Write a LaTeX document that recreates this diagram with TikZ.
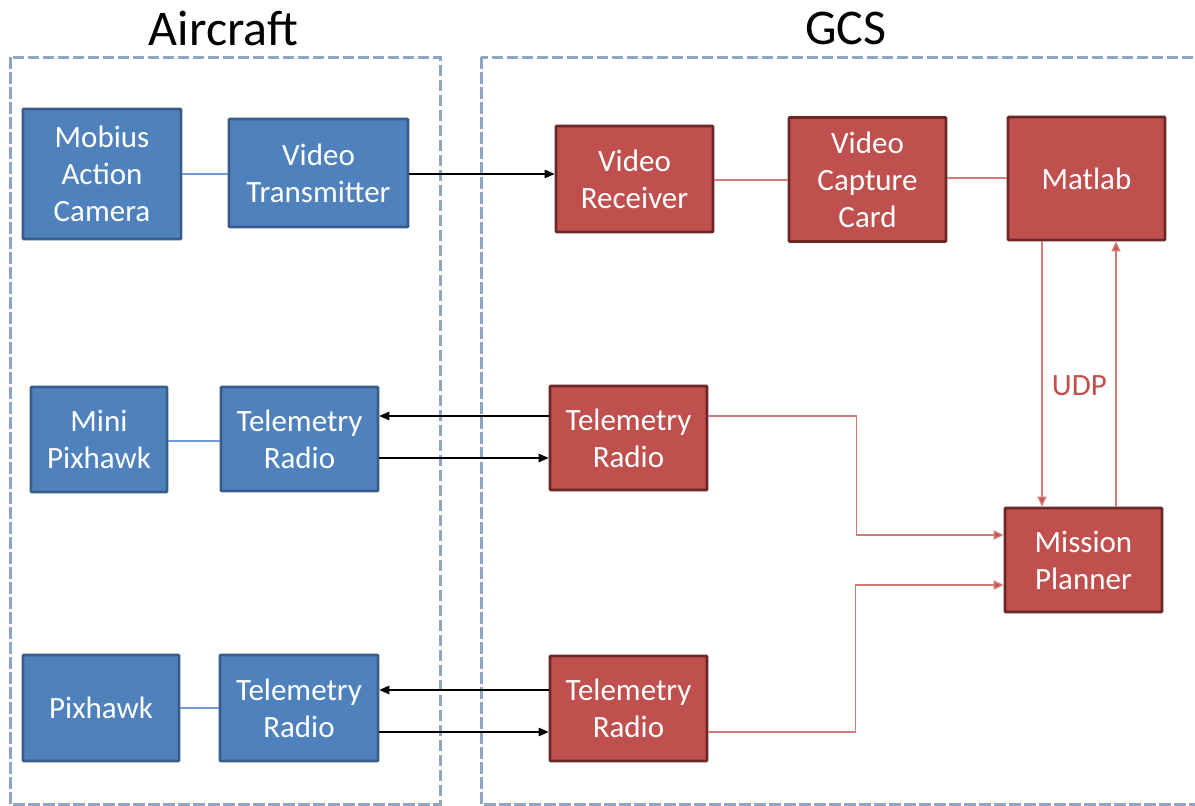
\documentclass[tikz,border=0pt]{standalone}
\usepackage{fontspec}
\setmainfont{Carlito}
\usetikzlibrary{arrows.meta,calc}
\definecolor{bfill}{HTML}{4F81BD}
\definecolor{bdraw}{HTML}{385D8A}
\definecolor{rfill}{HTML}{C0504D}
\definecolor{rdraw}{HTML}{6B2726}
\definecolor{rline}{RGB}{212,122,120}
\definecolor{bline}{RGB}{110,155,210}
\definecolor{dashc}{RGB}{142,165,195}
\tikzset{
  bluebox/.style={draw=bdraw, fill=bfill, line width=2.6pt, text=white, align=center, inner sep=0pt, rounded corners=0.8pt, font=\fontsize{31}{37}\selectfont},
  redbox/.style={draw=rdraw, fill=rfill, line width=2.8pt, text=white, align=center, inner sep=0pt, rounded corners=0.8pt, font=\fontsize{31}{37}\selectfont},
  group/.style={draw=dashc, line width=3pt, dash pattern=on 11.5pt off 3.5pt},
  title/.style={font=\fontsize{50}{54}\selectfont, text=black},
  bconn/.style={draw=bline, line width=1.3pt},
  rconn/.style={draw=rline, line width=1.5pt},
  rarrow/.style={draw=rline, line width=1.5pt, -{Triangle[length=10pt,width=9pt,fill=rfill]}},
  karrow/.style={draw=black, line width=1.2pt, -{Triangle[length=10pt,width=8.5pt]}},
}
\begin{document}
\begin{tikzpicture}[x=1pt,y=-1pt]
\useasboundingbox (0,0) rectangle (1195,806);
\begin{scope}
\clip (0,0) rectangle (1195,806);
\draw[group] (10,57) rectangle (440,804);
\draw[group] (481,57) rectangle (1215,804);
\end{scope}
\node[title] (tair) at (223.5,28) {Aircraft};
\node[title] (tgcs) at (846,28) {GCS};

% Aircraft
\node[bluebox, minimum width=158pt, minimum height=130pt] (mob) at (102,174) {Mobius\\Action\\Camera};
\node[bluebox, minimum width=179pt, minimum height=108pt] (vtx) at (318.5,173) {Video\\Transmitter};
\node[bluebox, minimum width=136pt, minimum height=105pt] (mini) at (99,439.5) {Mini\\Pixhawk};
\node[bluebox, minimum width=157pt, minimum height=104pt] (tr1) at (299.5,439) {Telemetry\\Radio};
\node[bluebox, minimum width=156pt, minimum height=106pt] (pix) at (101,708) {Pixhawk};
\node[bluebox, minimum width=158pt, minimum height=106pt] (tr2) at (299,708) {Telemetry\\Radio};

% GCS
\node[redbox, minimum width=157pt, minimum height=106pt] (vrx) at (634.5,179) {Video\\Receiver};
\node[redbox, minimum width=157pt, minimum height=124pt] (vcc) at (867.5,179.5) {Video\\Capture\\Card};
\node[redbox, minimum width=157pt, minimum height=123pt] (mat) at (1086.5,178.5) {Matlab};
\node[redbox, minimum width=157pt, minimum height=104pt] (tr3) at (628.5,438) {Telemetry\\Radio};
\node[redbox, minimum width=157pt, minimum height=105pt] (tr4) at (628.5,708.5) {Telemetry\\Radio};
\node[redbox, minimum width=157pt, minimum height=104pt] (mp) at (1083.5,560) {Mission\\Planner};

% connectors
\draw[bconn] (mob.east) -- (mob.east -| vtx.west);
\draw[bconn] ([yshift=-1.5pt]mini.east) -- ([yshift=-1.5pt]mini.east -| tr1.west);
\draw[bconn] (pix.east) -- (pix.east -| tr2.west);

\draw[karrow] ([yshift=-1pt]vtx.east) -- ([yshift=-1pt]vtx.east -| vrx.west);
\draw[karrow] ([yshift=22pt]tr3.west) -- ([yshift=22pt]tr3.west -| tr1.east);
\draw[karrow] ([yshift=-19pt]tr1.east) -- ([yshift=-19pt]tr1.east -| tr3.west);
\draw[karrow] ([yshift=18.5pt]tr4.west) -- ([yshift=18.5pt]tr4.west -| tr2.east);
\draw[karrow] ([yshift=-24pt]tr2.east) -- ([yshift=-24pt]tr2.east -| tr4.west);

\draw[rconn] ([yshift=-1pt]vrx.east) -- ([yshift=-1pt]vrx.east -| vcc.west);
\draw[rconn] ([yshift=1.5pt]vcc.east) -- ([yshift=1.5pt]vcc.east -| mat.west);

\draw[rarrow] ([yshift=22pt]tr3.east) -- ++(148,0) |- ([yshift=25pt]mp.west);
\draw[rarrow] ([yshift=-23.5pt]tr4.east) -- ++(147,0) |- ([yshift=-25pt]mp.west);

\draw[rarrow] ([xshift=-44.5pt]mat.south) -- ([xshift=-44.5pt]mat.south |- mp.north);
\draw[rarrow] ([xshift=32.5pt]mp.north) -- ([xshift=32.5pt]mp.north |- mat.south) node[pos=0.455, left=5pt, text=rfill, font=\fontsize{31}{37}\selectfont] (udp) {UDP};
\end{tikzpicture}
\end{document}
